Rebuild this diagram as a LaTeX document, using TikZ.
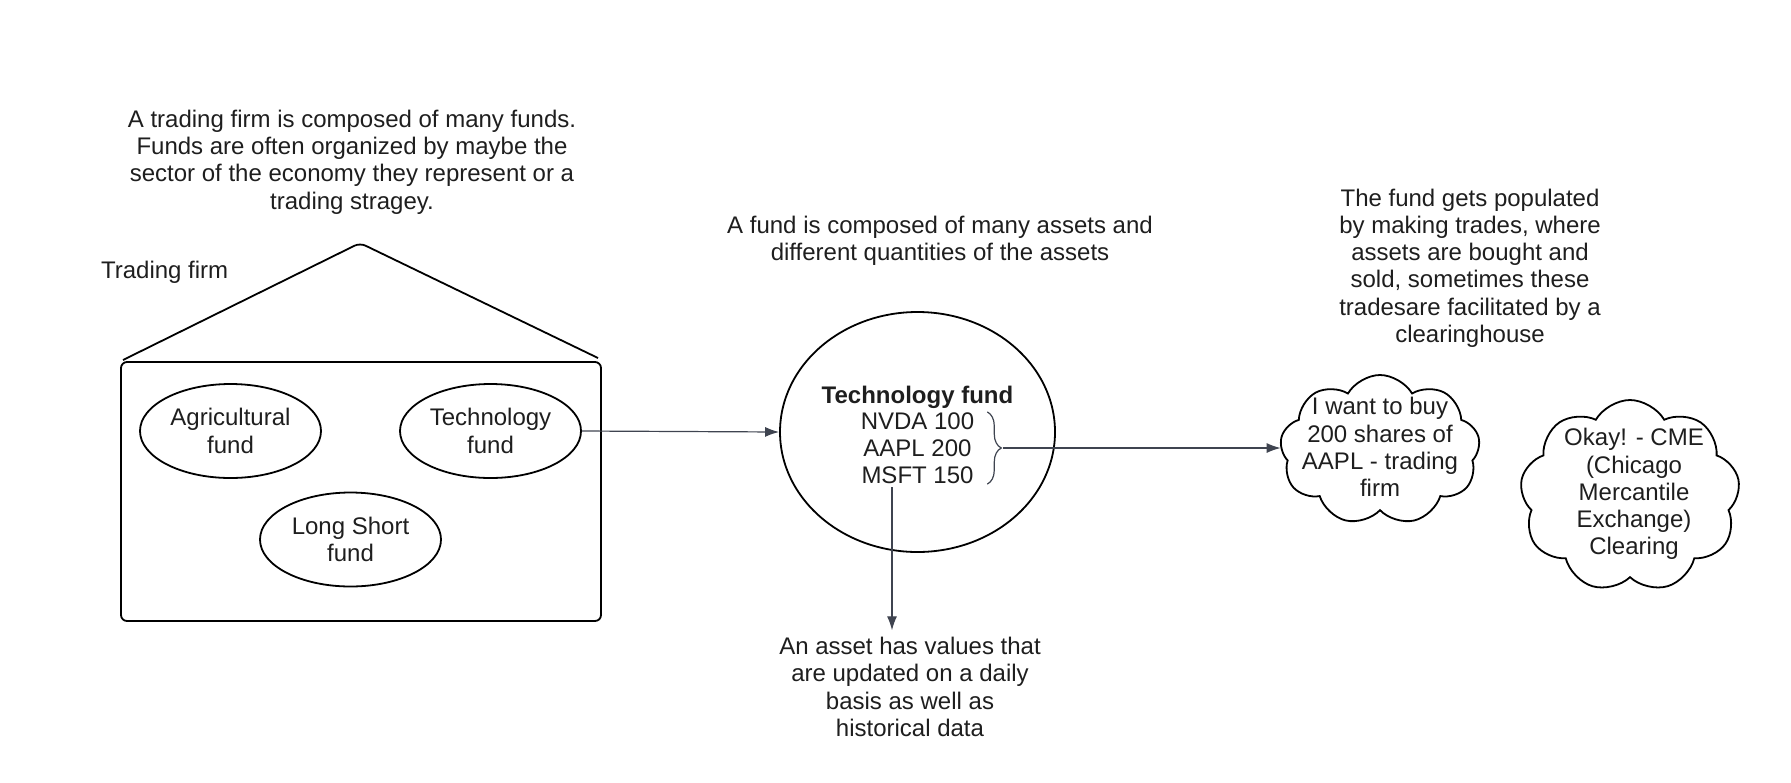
\documentclass[tikz,border=0pt]{standalone}
\usepackage{fontspec}
\setmainfont{Liberation Sans}
\usetikzlibrary{shapes.geometric,shapes.symbols,arrows.meta,decorations.pathreplacing}
\definecolor{arrowgrey}{HTML}{3F4450}
\definecolor{inkblack}{HTML}{1E1E1E}

\begin{document}
\begin{tikzpicture}[x=0.5pt,y=-0.5pt,
	font=\fontsize{12}{13.6}\selectfont,
	outline/.style={line width=0.9pt,draw=black},
	fundshape/.style={ellipse,outline,minimum width=90.5pt,minimum height=47pt,inner sep=1pt,align=center,text=inkblack},
	bubble/.style={cloud,outline,cloud puffs=9,cloud puff arc=120,cloud ignores aspect,inner sep=0pt},
	note/.style={align=center,text=inkblack},
	arr/.style={draw=arrowgrey,line width=0.6pt,-{Latex[length=7pt,width=5pt]}},
	curly/.style={draw=arrowgrey,line width=0.6pt,decorate,decoration={brace,amplitude=7pt}}]
	\useasboundingbox (0,0) rectangle (1791,782);

	\node[note] (firmnote) at (352,162) {A trading firm is composed of many funds.\\Funds are often organized by maybe the\\sector of the economy they represent or a\\trading stragey.};
	\node[note,anchor=west] (firmlabel) at (94,272) {Trading firm};
	\draw[outline,rounded corners=3pt] (123,360) -- (360,243) -- (598,358);
	\draw[outline,rounded corners=3pt] (121,362) rectangle (601,621);
	\node[fundshape] (agri) at (230.5,431) {Agricultural\\fund};
	\node[fundshape] (tech) at (490.5,431) {Technology\\fund};
	\node[fundshape] (longshort) at (350.5,539.5) {Long Short\\fund};

	\node[note] (fundnote) at (940,241) {A fund is composed of many assets and\\different quantities of the assets};
	\node[ellipse,outline,minimum width=137.5pt,minimum height=120pt] (fund) at (917.5,432) {};
	\node[note,font=\fontsize{12}{13.6}\selectfont\bfseries] (fundtitle) at (917.5,397) {Technology fund};
	\node[note,inner ysep=0pt] (assets) at (917.5,448) {NVDA 100\\AAPL 200\\MSFT 150};
	\draw[curly] ([xshift=3pt]assets.north east) -- ([xshift=3pt]assets.south east);
	\coordinate (bracetip) at ([xshift=11pt]assets.east);
	\coordinate (assetfoot) at (892,487);
	\node[note] (assetnote) at (910,687) {An asset has values that\\are updated on a daily\\basis as well as\\historical data};

	\node[note] (tradenote) at (1470,268) {The fund gets populated\\by making trades, where\\assets are bought and\\sold, sometimes these\\tradesare facilitated by a\\clearinghouse};
	\node[bubble,minimum width=100pt,minimum height=75pt] (buyer) at (1380,450) {};
	\node[note] (buyertext) at (1380,447) {I want to buy\\200 shares of\\AAPL - trading\\firm};
	\node[bubble,minimum width=110pt,minimum height=96pt] (clearing) at (1630,496) {};
	\node[note] (clearingtext) at (1634,494) {Okay! - CME\\(Chicago\\Mercantile\\Exchange)\\Clearing};

	\draw[arr] (tech.east) -- (fund.west);
	\draw[arr] (bracetip) -- (bracetip -| buyer.west);
	\draw[arr] (assetfoot) -- (assetfoot |- assetnote.north);
\end{tikzpicture}
\end{document}
